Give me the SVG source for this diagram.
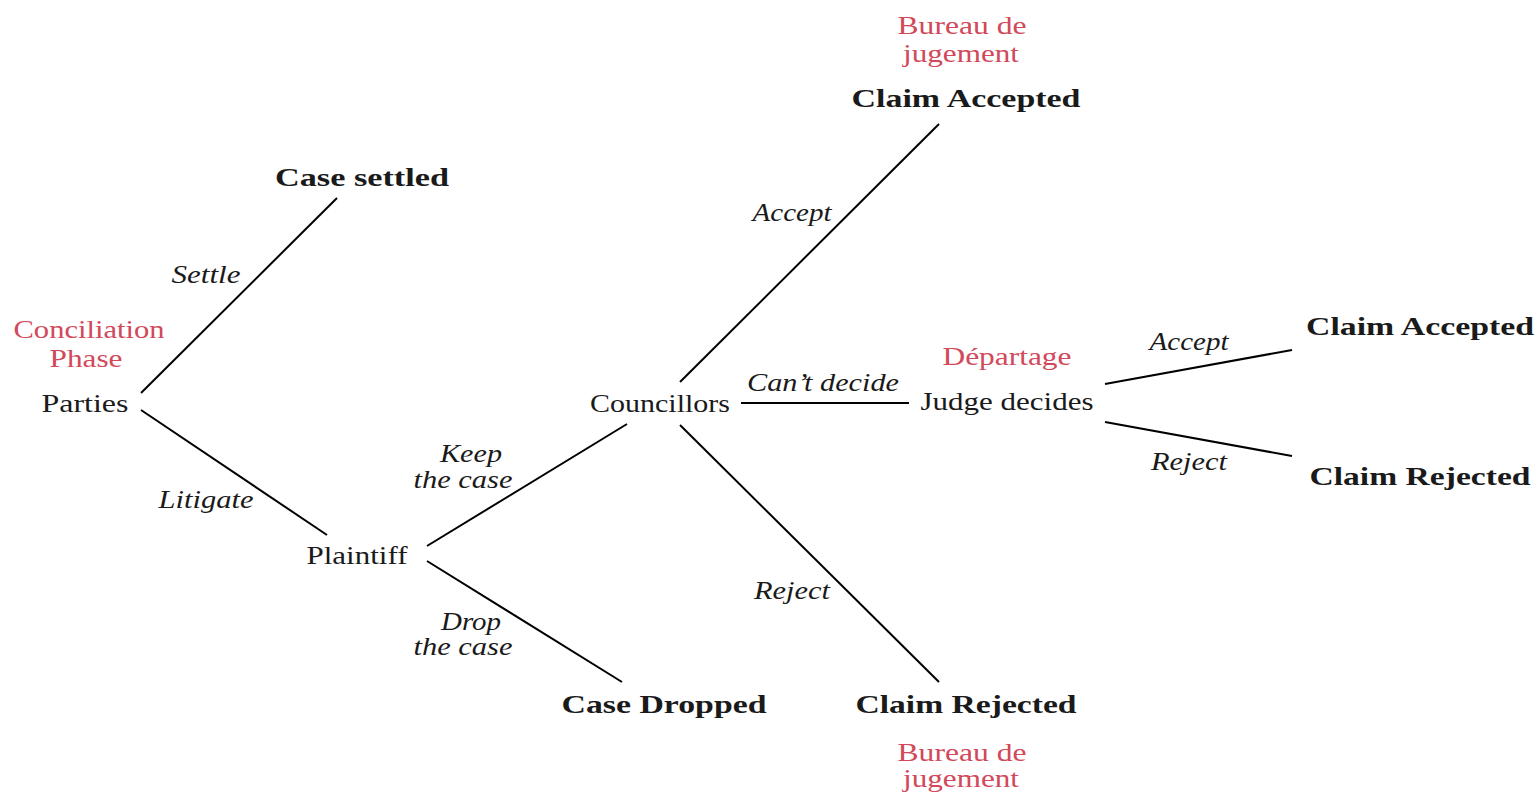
<svg xmlns="http://www.w3.org/2000/svg" width="1539" height="796" viewBox="0 0 1539 796">
<style>
text{font-family:"Liberation Serif","DejaVu Serif",serif;font-size:26px;fill:#1a1a1a;text-anchor:middle}
.b{font-weight:bold}
.i{font-style:italic;font-size:25px}
.r{fill:#D1495B}
#edges line{stroke:#000;stroke-width:2;stroke-linecap:butt}
</style>
<rect width="1539" height="796" fill="#fff"/>
<g id="edges">
<line x1="141" y1="393" x2="337" y2="198"/>
<line x1="141" y1="410" x2="327" y2="535"/>
<line x1="427" y1="546" x2="627" y2="424"/>
<line x1="427" y1="561" x2="622" y2="682"/>
<line x1="680" y1="382" x2="939" y2="124"/>
<line x1="741" y1="403" x2="909" y2="403"/>
<line x1="680" y1="425" x2="939" y2="682"/>
<line x1="1105" y1="384" x2="1292" y2="350"/>
<line x1="1105" y1="422" x2="1292" y2="456"/>
</g>
<g id="edge-labels">
<text class="i" x="206" y="283" textLength="69" lengthAdjust="spacingAndGlyphs">Settle</text>
<text class="i" x="206" y="508" textLength="95" lengthAdjust="spacingAndGlyphs">Litigate</text>
<text class="i" x="471" y="462" textLength="62" lengthAdjust="spacingAndGlyphs">Keep</text>
<text class="i" x="463" y="488" textLength="99" lengthAdjust="spacingAndGlyphs">the case</text>
<text class="i" x="471" y="630" textLength="60" lengthAdjust="spacingAndGlyphs">Drop</text>
<text class="i" x="463" y="655" textLength="99" lengthAdjust="spacingAndGlyphs">the case</text>
<text class="i" x="792" y="221" textLength="79" lengthAdjust="spacingAndGlyphs">Accept</text>
<text class="i" x="823" y="391" textLength="152" lengthAdjust="spacingAndGlyphs">Can’t decide</text>
<text class="i" x="792" y="599" textLength="76" lengthAdjust="spacingAndGlyphs">Reject</text>
<text class="i" x="1189" y="350" textLength="79" lengthAdjust="spacingAndGlyphs">Accept</text>
<text class="i" x="1189" y="470" textLength="76" lengthAdjust="spacingAndGlyphs">Reject</text>
</g>
<g id="parties">
<text class="r" x="89" y="338" textLength="151" lengthAdjust="spacingAndGlyphs">Conciliation</text>
<text class="r" x="86" y="367" textLength="73" lengthAdjust="spacingAndGlyphs">Phase</text>
<text x="85" y="412" textLength="87" lengthAdjust="spacingAndGlyphs">Parties</text>
</g>
<g id="case-settled"><text class="b" x="362" y="186" textLength="174" lengthAdjust="spacingAndGlyphs">Case settled</text></g>
<g id="plaintiff"><text x="357" y="564" textLength="101" lengthAdjust="spacingAndGlyphs">Plaintiff</text></g>
<g id="case-dropped"><text class="b" x="664" y="713" textLength="205" lengthAdjust="spacingAndGlyphs">Case Dropped</text></g>
<g id="councillors"><text x="660" y="412" textLength="140" lengthAdjust="spacingAndGlyphs">Councillors</text></g>
<g id="claim-accepted-1">
<text class="r" x="962" y="34" textLength="129" lengthAdjust="spacingAndGlyphs">Bureau de</text>
<text class="r" x="961" y="62" textLength="116" lengthAdjust="spacingAndGlyphs">jugement</text>
<text class="b" x="966" y="107" textLength="229" lengthAdjust="spacingAndGlyphs">Claim Accepted</text>
</g>
<g id="claim-rejected-1">
<text class="b" x="966" y="713" textLength="221" lengthAdjust="spacingAndGlyphs">Claim Rejected</text>
<text class="r" x="962" y="761" textLength="129" lengthAdjust="spacingAndGlyphs">Bureau de</text>
<text class="r" x="961" y="787" textLength="116" lengthAdjust="spacingAndGlyphs">jugement</text>
</g>
<g id="judge">
<text class="r" x="1007" y="365" textLength="129" lengthAdjust="spacingAndGlyphs">Départage</text>
<text x="1007" y="410" textLength="173" lengthAdjust="spacingAndGlyphs">Judge decides</text>
</g>
<g id="claim-accepted-2"><text class="b" x="1420" y="335" textLength="228" lengthAdjust="spacingAndGlyphs">Claim Accepted</text></g>
<g id="claim-rejected-2"><text class="b" x="1420" y="485" textLength="221" lengthAdjust="spacingAndGlyphs">Claim Rejected</text></g>
</svg>
